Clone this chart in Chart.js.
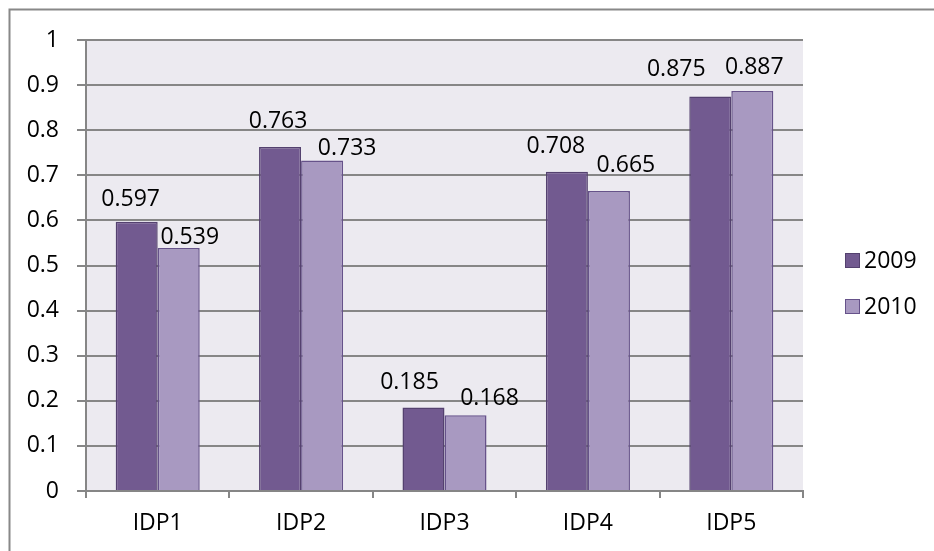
<!DOCTYPE html>
<html>
<head>
<meta charset="utf-8">
<script src="https://cdn.jsdelivr.net/npm/chart.js@4.4.1/dist/chart.umd.min.js"></script>
<style>
  html, body { margin: 0; padding: 0; background: #fff; }
  #wrap { position: relative; width: 934px; height: 551px; }
</style>
</head>
<body>
<div id="wrap"><canvas id="barChart" width="934" height="551"></canvas></div>
<script>
const categories = ["IDP1", "IDP2", "IDP3", "IDP4", "IDP5"];
const seriesNames = ["2009", "2010"];
const values2009 = [0.597, 0.763, 0.185, 0.708, 0.875];
const values2010 = [0.539, 0.733, 0.168, 0.665, 0.887];
const yTicks = [0, 0.1, 0.2, 0.3, 0.4, 0.5, 0.6, 0.7, 0.8, 0.9, 1];

// label placement nudges (dx from bar centre, gap above bar top)
const labelDx = [[-6, -2, -14, -11, -34], [11, 25, 24, 17, 2]];
const labelGap = [[16, 19, 19, 19, 20], [4, 5, 10, 19, 17]];

const FONT = "'Open Sans', sans-serif";
const FSIZE = 23;
const gridColor = "#868686";

const frame = {
  id: "frame",
  beforeDraw(chart) {
    const c = chart.ctx;
    const a = chart.chartArea;
    c.save();
    c.fillStyle = "#fff";
    c.fillRect(0, 0, chart.width, chart.height);
    c.fillStyle = "#ECEAF0";
    c.fillRect(a.left, a.top, a.right - a.left, a.bottom - a.top);
    c.strokeStyle = "#888888";
    c.lineWidth = 2;
    c.strokeRect(9.5, 9.5, 1000, 1000);
    c.restore();
  },
};

const valueLabels = {
  id: "valueLabels",
  afterDatasetsDraw(chart) {
    const c = chart.ctx;
    c.save();
    c.font = FSIZE + "px " + FONT;
    c.fillStyle = "#000";
    c.textAlign = "center";
    c.textBaseline = "alphabetic";
    chart.data.datasets.forEach((ds, d) => {
      chart.getDatasetMeta(d).data.forEach((bar, i) => {
        const txt = ds.data[i].toFixed(3);
        c.fillText(txt, bar.x + labelDx[d][i], bar.y - labelGap[d][i]);
      });
    });
    c.restore();
  },
};

const sideLegend = {
  id: "sideLegend",
  afterDraw(chart) {
    const c = chart.ctx;
    c.save();
    c.font = FSIZE + "px " + FONT;
    c.textBaseline = "middle";
    c.textAlign = "left";
    chart.data.datasets.forEach((ds, d) => {
      const y = 260 + d * 46;
      c.fillStyle = ds.backgroundColor;
      c.fillRect(845, y - 7, 15, 15);
      c.strokeStyle = ds.borderColor;
      c.lineWidth = 1;
      c.strokeRect(845.5, y - 6.5, 14, 14);
      c.fillStyle = "#000";
      c.fillText(ds.label, 864, y + 1);
    });
    c.restore();
  },
};

const ctx = document.getElementById("barChart");

new Chart(ctx, {
  type: "bar",
  data: {
    labels: categories,
    datasets: [
      {
        label: seriesNames[0],
        data: values2009,
        backgroundColor: "#725A90",
        borderColor: "#54416F",
        borderWidth: 1.5,
      },
      {
        label: seriesNames[1],
        data: values2010,
        backgroundColor: "#A899C1",
        borderColor: "#66528A",
        borderWidth: 1.5,
      },
    ],
  },
  options: {
    responsive: false,
    animation: false,
    layout: { padding: { top: 40, left: 0, right: 131, bottom: 0 } },
    datasets: {
      bar: { categoryPercentage: 0.586, barPercentage: 1.0 },
    },
    plugins: {
      legend: { display: false },
      tooltip: { enabled: false },
    },
    scales: {
      x: {
        grid: {
          offset: true,
          drawOnChartArea: false,
          drawTicks: true,
          tickLength: 7,
          color: gridColor,
          lineWidth: 2,
        },
        border: { display: true, color: gridColor, width: 2 },
        ticks: { color: "#000", font: { family: FONT, size: FSIZE }, padding: 12 },
        afterFit(scale) {
          scale.height = 60;
        },
      },
      y: {
        min: 0,
        max: 1,
        afterBuildTicks(scale) {
          scale.ticks = yTicks.map((v) => ({ value: v }));
        },
        grid: { color: gridColor, lineWidth: 2, tickLength: 9 },
        border: { display: true, color: gridColor, width: 2 },
        ticks: {
          color: "#000",
          font: { family: FONT, size: FSIZE },
          padding: 18,
          callback: (v) => String(v),
        },
        afterFit(scale) {
          scale.width = 86;
        },
      },
    },
  },
  plugins: [frame, valueLabels, sideLegend],
});
</script>
</body>
</html>
